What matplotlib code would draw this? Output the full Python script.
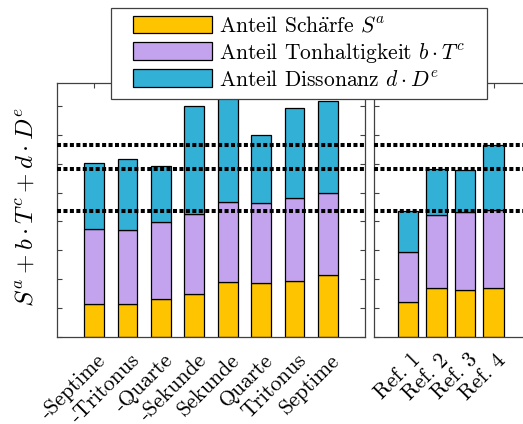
import matplotlib
matplotlib.use("Agg")
import matplotlib.pyplot as plt
import matplotlib.transforms as mtransforms
from matplotlib.patches import Rectangle
import numpy as np

plt.rcParams['font.family'] = ['cmr10']
plt.rcParams['mathtext.fontset'] = 'cm'
plt.rcParams['axes.formatter.use_mathtext'] = True

# data
intervals = ["-Septime", "-Tritonus", "-Quarte", "-Sekunde", "Sekunde", "Quarte", "Tritonus", "Septime"]
sharp_int = [1.15, 1.14, 1.33, 1.49, 1.89, 1.86, 1.95, 2.13]
tonal_int = [2.59, 2.55, 2.66, 2.77, 2.78, 2.77, 2.86, 2.86]
diss_int = [2.28, 2.46, 1.94, 3.73, 3.93, 2.35, 3.10, 3.19]

refs = ["Ref. 1", "Ref. 2", "Ref. 3", "Ref. 4"]
sharp_ref = [1.21, 1.68, 1.63, 1.70]
tonal_ref = [1.72, 2.54, 2.68, 2.69]
diss_ref = [1.43, 1.59, 1.48, 2.26]

ref_lines = [4.37, 5.83, 6.66]

c_s = '#FFC400'
c_t = '#C4A3EE'
c_d = '#33B0D6'
spine_c = '#404040'

W, H = 523, 424
fig = plt.figure(figsize=(W/100, H/100), dpi=100)

def px_axes(x0, x1, ytop, ybot):
    return fig.add_axes([x0/W, 1-ybot/H, (x1-x0)/W, (ybot-ytop)/H])

ax1 = px_axes(57, 365, 82.7, 337)
ax2 = px_axes(374.3, 527.5, 82.7, 337)

ymax = 8.80
label_shift = mtransforms.ScaledTranslation(9/100, -20/100, fig.dpi_scale_trans)

def draw(ax, labels, s, t, d, width, pad):
    x = np.arange(1, len(labels)+1)
    s = np.array(s); t = np.array(t); d = np.array(d)
    kw = dict(width=width, edgecolor='black', linewidth=0.9, zorder=2)
    b1 = ax.bar(x, s, color=c_s, **kw)
    b2 = ax.bar(x, t, bottom=s, color=c_t, **kw)
    b3 = ax.bar(x, d, bottom=s+t, color=c_d, **kw)
    for yv in ref_lines:
        ax.axhline(yv, color='black', linestyle=(0, (1, 0.6)), linewidth=2.9, zorder=3)
    ax.set_xlim(1-pad, len(labels)+pad)
    ax.set_ylim(0, ymax)
    ax.set_yticks(np.arange(0, 9, 1))
    ax.set_yticklabels([])
    ax.set_xticks(x)
    ax.set_xticklabels(labels, rotation=45, ha='right', va='center',
                       rotation_mode='anchor', fontsize=15.5)
    ax.tick_params(direction='in', length=3.5, width=0.8, color=spine_c,
                   top=True, right=True, pad=0)
    for lab in ax.get_xticklabels():
        lab.set_transform(lab.get_transform() + label_shift)
    for sp in ax.spines.values():
        sp.set_color(spine_c)
        sp.set_linewidth(0.9)
    return b1, b2, b3

b1, b2, b3 = draw(ax1, intervals, sharp_int, tonal_int, diss_int, 0.59, 1.11)
draw(ax2, refs, sharp_ref, tonal_ref, diss_ref, 0.72, 1.18)

ax1.set_ylabel(r'$S^a + b \cdot T^c + d \cdot D^e$', fontsize=18)
ax1.yaxis.set_label_coords(-0.062, 0.511)

# legend frame (MATLAB-like wide padding)
frame = Rectangle((111/W, 1-99/H), (487-111)/W, (99-8)/H, transform=fig.transFigure,
                  facecolor='white', edgecolor=spine_c, linewidth=0.9, zorder=9)
fig.add_artist(frame)

leg = fig.legend([b1, b2, b3],
                 [r'Anteil Sch$\ddot{\mathrm{a}}$rfe $S^a$',
                  r'Anteil Tonhaltigkeit $b \cdot T^c$',
                  r'Anteil Dissonanz $d \cdot D^e$'],
                 loc='upper left', bbox_to_anchor=(132.7/W, 1-15.5/H),
                 fontsize=15.5, frameon=False,
                 handlelength=3.7, handleheight=0.9,
                 labelspacing=0.22, borderpad=0, handletextpad=0.3,
                 borderaxespad=0)
leg.set_zorder(10)

fig.savefig('out.png', dpi=100)
